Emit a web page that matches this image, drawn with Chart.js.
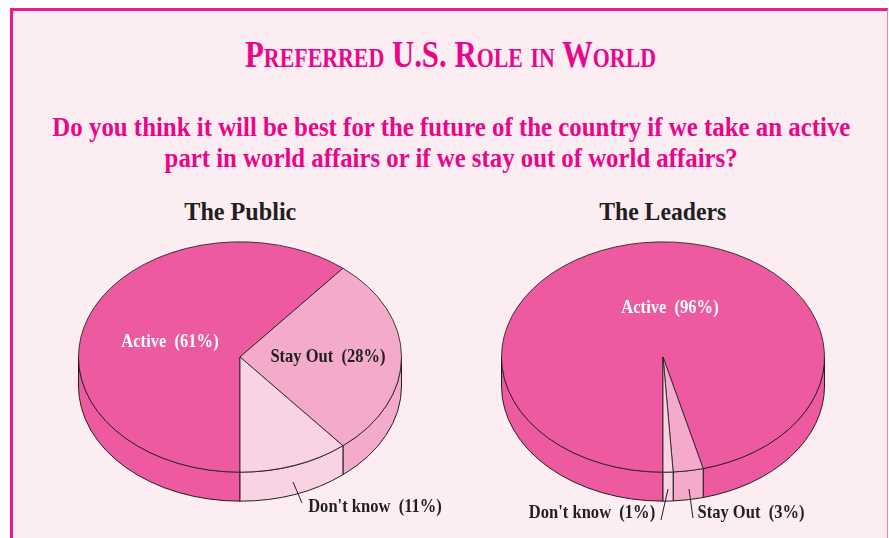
<!DOCTYPE html>
<html lang="en">

<head>
    <meta charset="UTF-8">
    <meta name="viewport" content="width=device-width, initial-scale=1.0">
    <title>Preferred U.S. Role in World</title>
    <script src="https://cdn.jsdelivr.net/npm/chart.js@4"></script>
    <style>
        html, body { margin: 0; padding: 0; background: #ffffff; }
        body { width: 889px; height: 538px; position: relative; overflow: hidden;
               font-family: "Liberation Serif", "Times New Roman", serif; }
        .quadro { position: absolute; left: 10px; top: 8px; width: 874px; height: 540px;
                  background: #fcedf2; border-left: 3px solid #ec1a8c; border-top: 3px solid #ec1a8c;
                  border-right: 1px solid #f27cb8; }
        .texto { position: absolute; left: 0; width: 902px; text-align: center; font-weight: bold;
                 white-space: nowrap; }
        .texto span { display: inline-block; transform-origin: center; }
        #titulo { top: 35px; font-size: 38px; line-height: 38px; font-variant: small-caps; color: #e8078a; }
        .pergunta { font-size: 27px; line-height: 27px; color: #e8078a; }
        #linha1 { top: 114px; }
        #linha2 { top: 145px; }
        .nome-pizza { top: 199px; width: 420px; font-size: 26px; line-height: 26px; color: #231f20; }
        canvas { position: absolute; top: 187px; }
        #pizzaPublico { left: 30px; }
        #pizzaLideres { left: 453px; }
    </style>
</head>

<body>
    <div class="quadro"></div>
    <div class="texto" id="titulo"><span data-largura="411">Preferred U.S. Role in World</span></div>
    <div class="texto pergunta" id="linha1"><span data-largura="798">Do you think it will be best for the future of the country if we take an active</span></div>
    <div class="texto pergunta" id="linha2"><span data-largura="573">part in world affairs or if we stay out of world affairs?</span></div>
    <div class="texto nome-pizza" style="left:30px"><span id="nomePublico" data-largura="112"></span></div>
    <div class="texto nome-pizza" style="left:453px"><span id="nomeLideres" data-largura="127"></span></div>

    <canvas id="pizzaPublico" width="420" height="340"></canvas>
    <canvas id="pizzaLideres" width="420" height="340"></canvas>

    <script>
        // Dados
        const categorias = ['Active', 'Stay Out', "Don't know"];
        const publico = [61, 28, 11];
        const lideres = [96, 3, 1];
        const nomesPizzas = ['The Public', 'The Leaders'];

        const cores = ['#ee5a9f', '#f3aacb', '#f9d3e3'];
        const corLinha = '#231f20';

        document.getElementById('nomePublico').textContent = nomesPizzas[0];
        document.getElementById('nomeLideres').textContent = nomesPizzas[1];

        // aperta os textos para a largura do original
        document.querySelectorAll('[data-largura]').forEach(function (el) {
            const w = el.getBoundingClientRect().width;
            el.style.transform = 'scaleX(' + (Number(el.dataset.largura) / w) + ')';
        });

        // pizza "3D": lateral desenhada antes, topo achatado na vertical
        const pizza3d = {
            id: 'pizza3d',
            beforeDatasetsDraw(chart, args, opts) {
                const arcos = chart.getDatasetMeta(0).data;
                const ctx = chart.ctx;
                const cx = arcos[0].x, cy = arcos[0].y;
                const rx = arcos[0].outerRadius, ry = rx * opts.achatar, d = opts.altura;
                const fundo = chart.data.datasets[0].backgroundColor;

                ctx.save();
                ctx.lineWidth = 1;
                ctx.strokeStyle = corLinha;
                arcos.forEach(function (arco, i) {
                    for (let k = -1; k <= 2; k++) {
                        const ini = Math.max(arco.startAngle, k * 2 * Math.PI);
                        const fim = Math.min(arco.endAngle, k * 2 * Math.PI + Math.PI);
                        if (fim <= ini) continue;
                        ctx.beginPath();
                        ctx.ellipse(cx, cy, rx, ry, 0, ini, fim, false);
                        ctx.lineTo(cx + rx * Math.cos(fim), cy + d + ry * Math.sin(fim));
                        ctx.ellipse(cx, cy + d, rx, ry, 0, fim, ini, true);
                        ctx.closePath();
                        ctx.fillStyle = fundo[i];
                        ctx.fill();
                        ctx.stroke();
                    }
                });
                ctx.restore();

                ctx.save();
                ctx.translate(cx, cy);
                ctx.scale(1, opts.achatar);
                ctx.translate(-cx, -cy);
            },
            afterDatasetsDraw(chart, args, opts) {
                const ctx = chart.ctx;
                ctx.restore();

                const arcos = chart.getDatasetMeta(0).data;
                const cx = arcos[0].x, cy = arcos[0].y;
                const valores = chart.data.datasets[0].data;
                ctx.save();
                ctx.font = 'bold 19px "Liberation Serif", serif';
                ctx.textAlign = 'center';
                ctx.textBaseline = 'middle';
                chart.data.labels.forEach(function (rotulo, i) {
                    const r = opts.rotulos[i];
                    const texto = rotulo + '  (' + valores[i] + '%)';
                    ctx.save();
                    ctx.translate(cx + r.dx, cy + r.dy);
                    ctx.scale(0.87, 1);
                    ctx.fillStyle = r.cor;
                    ctx.fillText(texto, 0, 0);
                    ctx.restore();
                    if (r.linha) {
                        ctx.beginPath();
                        ctx.moveTo(cx + r.linha[0], cy + r.linha[1]);
                        ctx.lineTo(cx + r.linha[2], cy + r.linha[3]);
                        ctx.strokeStyle = corLinha;
                        ctx.lineWidth = 1;
                        ctx.stroke();
                    }
                });
                ctx.restore();
            }
        };

        function criarPizza(id, valores, rotulos) {
            return new Chart(document.getElementById(id), {
                type: 'pie',
                data: {
                    labels: categorias,
                    datasets: [{
                        data: valores,
                        backgroundColor: cores,
                        borderColor: corLinha,
                        borderWidth: 1
                    }]
                },
                options: {
                    responsive: false,
                    animation: false,
                    events: [],
                    rotation: 180,
                    layout: { padding: 8 },
                    plugins: {
                        legend: { display: false },
                        tooltip: { enabled: false },
                        pizza3d: { achatar: 0.713, altura: 29, rotulos: rotulos }
                    }
                },
                plugins: [pizza3d]
            });
        }

        // Gráfico do público
        criarPizza('pizzaPublico', publico, [
            { dx: -70, dy: -15, cor: '#ffffff' },
            { dx: 88, dy: 0, cor: corLinha },
            { dx: 135, dy: 150, cor: corLinha, linha: [53, 125, 62, 146] }
        ]);

        // Gráfico dos líderes
        criarPizza('pizzaLideres', lideres, [
            { dx: 7, dy: -49, cor: '#ffffff' },
            { dx: 88, dy: 156, cor: corLinha, linha: [26, 132, 30, 161] },
            { dx: -71, dy: 156, cor: corLinha, linha: [5, 132, -2, 163] }
        ]);
    </script>
</body>

</html>
